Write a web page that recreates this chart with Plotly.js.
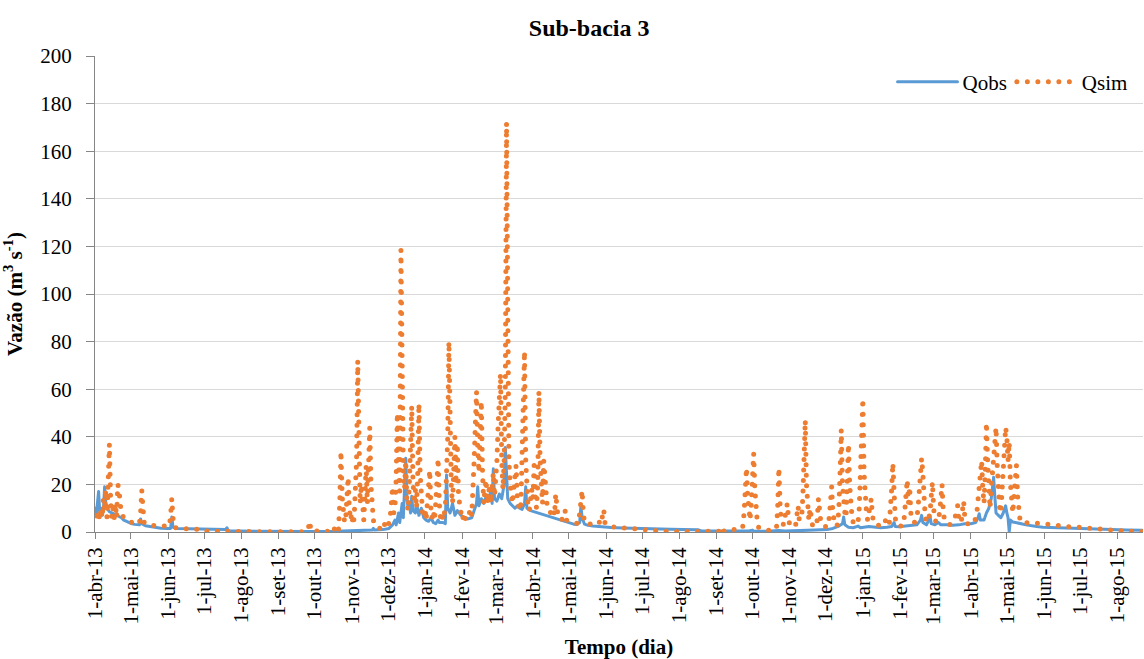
<!DOCTYPE html>
<html>
<head>
<meta charset="utf-8">
<script src="https://cdn.plot.ly/plotly-3.0.1.min.js"></script>
<style>
  html, body { margin: 0; padding: 0; background: #fff; }
  #grafico { width: 1144px; height: 659px; }
  /* round caps turn the zero-length dashes of Qsim into dots */
  .js-line { stroke-linecap: round; stroke-linejoin: round; }
</style>
</head>
<body>
<div id="grafico"></div>
<script>
// Vazões diárias da sub-bacia 3 (m3/s); "dia" conta a partir de 1-abr-2013 (dia 0)
const qobsPontos = [
  [0,10],[1,7],[2,12],[3,17],[4,8],[5,10],[6,7],[7,9],[8,19],[9,12],[10,10],[11,9],[12,8.5],[14,8],[16,7.5],
  [18,7],[20,6.5],[22,6],[24,5],[26,4.5],[28,4],[30,3.6],[33,3.2],[36,3],[37,3],[38,5.5],[39,3.5],[42,2.6],
  [46,2.2],[50,1.8],[55,1.6],[60,1.5],[63,1.5],[64,6.3],[65,2],[68,1.5],[75,1.4],[85,1.3],[95,1.2],[105,1.1],
  [109,1.1],[110,1.8],[111,0.5],[120,0.4],[135,0.3],[150,0.3],[165,0.2],[180,0.2],[200,0.3],[215,0.4],[225,0.6],
  [231,0.8],[232,1.5],[233,0.8],[240,1],[245,1.5],[248,3],[250,5],[251,3],[253,8],[254,4],[256,12],[257,6],
  [258,20],[259,31],[260,14],[261,10],[262,12],[263,8],[264,15],[265,9],[267,8],[268,12],[270,7],[272,10],
  [274,6],[276,5],[278,4.5],[280,6],[282,4],[284,3.5],[286,5],[287,4],[290,4],[292,3.5],[293,24],[294,10],
  [296,8],[298,12],[300,7],[302,9],[305,7],[308,6],[311,5.5],[314,6],[316,9],[318,12],[319,19],[320,11],
  [322,14],[324,12],[326,15],[328,14],[330,17],[331,12],[332,26.6],[333,14],[335,13],[337,16],[339,14],
  [341,20],[342,35.5],[343,22],[344,14],[346,12],[348,11],[350,10],[352,11],[354,10],[356,9.5],[358,12],
  [359,19],[360,10],[363,9],[366,8.5],[369,8],[372,7.5],[375,7],[378,6.5],[381,6],[384,5.5],[387,5],[390,4.5],
  [393,4],[396,3.5],[399,3.3],[402,3.2],[404,4],[405,11],[406,6],[408,3.3],[411,2.8],[415,2.5],[420,2.2],
  [425,2],[430,1.9],[440,1.7],[450,1.5],[460,1.4],[470,1.3],[480,1.2],[490,1.1],[500,1],[503,0.9],[506,0.4],
  [520,0.3],[535,0.3],[545,0.4],[548,0.8],[549,0.4],[560,0.3],[570,0.6],[575,0.4],[590,0.5],[600,0.8],[610,1],
  [615,1.5],[620,2.5],[623,3.5],[624,6.3],[625,3],[628,2],[632,1.8],[636,2.5],[638,1.8],[645,2.3],[650,2],
  [655,1.8],[660,2],[664,2.3],[666,4],[667,2.3],[670,2.2],[675,2.5],[680,2.8],[685,3],[688,5],[689,7],[690,4],
  [693,3],[695,5],[696,6.6],[697,3.5],[700,3],[703,4],[705,3],[710,3],[715,2.8],[720,3],[725,3.5],[730,3.5],
  [734,4],[736,6],[737,7.7],[738,5],[741,5],[743,8],[745,10],[747,14],[748,18],[749,23],[750,15],[751,8],
  [753,7],[755,6],[757,8],[758,10],[759,11],[760,8],[761,6],[762,0.2],[763,5],[765,4.2],[768,4],[772,3.5],
  [776,3],[780,2.6],[785,2.3],[790,2],[800,1.8],[810,1.5],[820,1.3],[830,1.2],[840,1],[850,0.9],[860,0.8],[873,0.7]
];

const qsimPontos = [
  [0,7],[1,9],[2,6],[3,8],[4,5],[5,10],[6,6],[7,14],[8,9],[9,18],[10,6],[11,24],[12,37],[13,14],[14,6],[15,10],
  [16,6],[17,12],[18,6],[19,20],[20,18],[21,12],[22,8],[24,6],[26,5],[28,4.5],[31,4],[34,3.5],[37,3.5],[38,8],
  [39,17.5],[40,10],[41,4],[43,3.2],[46,2.8],[50,2.6],[55,2.5],[60,2.4],[62,2.5],[63,7],[64,14],[65,6],[66,2],
  [70,1.5],[78,1.3],[85,1.2],[90,0.4],[100,0.2],[125,0.2],[150,0.1],[176,0.1],[178,2],[179,4.5],[180,0.5],
  [190,0.2],[197,0.3],[199,2],[200,0.5],[202,2.5],[203,1.2],[204,12],[205,34],[206,15],[207,8],[208,4],[209,6],
  [210,14],[211,23],[212,10],[213,5],[214,8],[215,3],[216,6],[217,15],[218,30],[219,72],[220,28],[221,12],
  [222,20],[223,8],[224,5],[225,15],[226,28],[227,12],[228,25],[229,44],[230,20],[231,10],[232,5],[233,3],
  [235,2],[238,1.5],[240,2],[241,4],[242,1.5],[244,2],[246,6],[247,12],[248,19],[249,8],[250,10],[251,22],
  [252,50],[253,28],[254,15],[255,118.5],[256,40],[257,25],[258,18],[259,30],[260,12],[261,9],[262,20],[263,35],
  [264,53],[265,22],[266,12],[267,18],[268,10],[269,25],[270,54],[271,25],[272,12],[273,8],[274,6],[275,10],
  [276,5],[277,14],[278,20],[279,26],[280,10],[281,6],[282,9],[283,5],[284,12],[285,20],[286,31],[287,12],
  [288,6],[289,8],[290,5],[292,10],[293,22],[294,40],[295,80],[296,35],[297,18],[298,12],[299,25],[300,40],
  [301,20],[302,37],[303,15],[304,10],[305,6],[306,5],[308,8],[309,5],[311,6],[313,10],[314,7],[315,15],
  [316,30],[317,45],[318,59],[319,35],[320,25],[321,40],[322,55],[323,25],[324,12],[325,18],[326,22],[327,12],
  [328,15],[329,20],[330,12],[331,18],[332,25],[333,15],[334,20],[335,30],[336,45],[337,55],[338,66.5],[339,30],
  [340,18],[341,30],[342,60],[343,172],[344,60],[345,30],[346,20],[347,14],[348,12],[349,18],[350,22],[351,28],
  [352,14],[353,10],[354,9],[355,12],[356,30],[357,55],[358,76],[359,30],[360,15],[361,10],[362,9],[363,12],
  [364,18],[365,14],[366,28],[367,14],[368,10],[369,20],[370,59],[371,30],[372,15],[373,12],[374,30],[375,20],
  [376,12],[377,10],[378,9],[380,8],[382,10],[383,7],[384,16],[385,9],[386,6],[388,6],[390,5],[392,9],[393,5],
  [395,4.5],[398,4],[401,3.5],[403,3.5],[404,8],[405,12],[406,17.5],[407,8],[408,4],[410,3.5],[414,3],[418,3],
  [420,3.5],[421,5],[422,4],[423,6],[424,9.5],[425,4],[428,2.5],[433,2],[438,1.8],[445,1.5],[455,1.3],[464,0.5],
  [475,0.3],[490,0.2],[505,0.2],[520,0.3],[522,2],[523,0.4],[530,0.3],[534,1.5],[536,2],[538,1.5],[540,2.5],
  [541,8],[542,18],[543,27],[544,15],[545,8],[546,5],[547,12],[548,22],[549,33],[550,18],[551,8],[552,4],
  [553,2],[555,1.5],[560,0.8],[565,0.7],[568,1.5],[569,10],[570,27],[571,12],[572,5],[574,3],[575,6],[576,9],
  [577,12],[578,6],[579,3],[581,2],[584,3],[585,7],[586,11],[587,5],[589,6],[590,15],[591,30],[592,47],[593,20],
  [594,8],[595,5],[596,10],[597,6],[598,3],[600,2],[602,5],[603,14],[604,8],[605,4],[606,3],[608,2.5],[610,2],
  [612,6],[613,12],[614,19],[615,8],[616,4],[617,2.5],[619,3],[620,10],[621,25],[622,43],[623,20],[624,10],
  [625,8],[626,6],[627,18],[628,37],[629,20],[630,10],[631,6],[632,4],[634,3],[636,4],[637,10],[638,25],
  [639,40],[640,56],[641,25],[642,12],[643,8],[644,5],[645,8],[646,10],[647,14],[648,7],[649,4],[651,3],
  [654,2.5],[657,2.5],[659,5],[660,3],[662,3],[663,8],[664,18],[665,29],[666,12],[667,6],[668,3],[670,2.5],
  [672,2.5],[674,3],[675,8],[676,15],[677,22],[678,12],[679,19],[680,8],[681,5],[683,4],[685,6],[686,10],
  [687,18],[688,24],[689,31],[690,25],[691,12],[692,6],[694,4],[696,8],[697,15],[698,21],[699,10],[700,5],
  [702,4],[704,8],[705,14],[706,20],[707,9],[708,5],[710,4],[712,3],[714,3.5],[716,5],[718,8],[719,11],[720,5],
  [722,4],[723,9],[724,13],[725,6],[727,3.5],[730,3],[733,4],[735,8],[736,15],[737,22],[738,26],[739,30],
  [740,18],[741,12],[742,25],[743,46],[744,30],[745,15],[746,10],[747,18],[748,25],[749,32],[750,38],[751,44],
  [752,28],[753,15],[754,10],[755,8],[756,15],[757,25],[758,35],[759,44],[760,40],[761,30],[762,37.8],[763,20],
  [764,12],[765,8],[766,15],[767,20],[768,28],[769,15],[770,8],[771,5],[772,4],[775,3.8],[781,3.8],[790,3.5],
  [800,2.8],[810,2.3],[820,2],[830,1.5],[840,1.1],[850,0.6],[860,0.3],[873,0.2]
];

// Marcas do eixo do tempo: primeiro dia de cada mês
const tickDatas = [
  '2013-04-01','2013-05-01','2013-06-01','2013-07-01','2013-08-01','2013-09-01','2013-10-01','2013-11-01',
  '2013-12-01','2014-01-01','2014-02-01','2014-03-01','2014-04-01','2014-05-01','2014-06-01','2014-07-01',
  '2014-08-01','2014-09-01','2014-10-01','2014-11-01','2014-12-01','2015-01-01','2015-02-01','2015-03-01',
  '2015-04-01','2015-05-01','2015-06-01','2015-07-01','2015-08-01'
];
const tickRotulos = [
  '1-abr-13','1-mai-13','1-jun-13','1-jul-13','1-ago-13','1-set-13','1-out-13','1-nov-13',
  '1-dez-13','1-jan-14','1-fev-14','1-mar-14','1-abr-14','1-mai-14','1-jun-14','1-jul-14',
  '1-ago-14','1-set-14','1-out-14','1-nov-14','1-dez-14','1-jan-15','1-fev-15','1-mar-15',
  '1-abr-15','1-mai-15','1-jun-15','1-jul-15','1-ago-15'
];

const inicio = Date.UTC(2013, 3, 1);
const paraData = d => new Date(inicio + d * 86400000).toISOString().slice(0, 10);

const fonte = '"Liberation Serif", "Times New Roman", "DejaVu Serif", serif';
const cinzaEixo = '#868686';

const traces = [
  {
    name: 'Qobs', type: 'scatter', mode: 'lines',
    x: qobsPontos.map(p => paraData(p[0])),
    y: qobsPontos.map(p => p[1]),
    line: { color: '#5B9BD5', width: 3 }
  },
  {
    name: 'Qsim', type: 'scatter', mode: 'lines',
    x: qsimPontos.map(p => paraData(p[0])),
    y: qsimPontos.map(p => p[1]),
    line: { color: '#ED7D31', width: 5, dash: '0px,10.5px' }
  }
];

const layout = {
  width: 1144, height: 659,
  paper_bgcolor: '#fff', plot_bgcolor: '#fff',
  margin: { l: 95, r: 1, t: 56, b: 127 },
  font: { family: fonte, color: '#000' },
  title: {
    text: '<b>Sub-bacia 3</b>',
    font: { family: fonte, size: 24, color: '#000' },
    xref: 'container', x: 0.515, xanchor: 'center',
    yref: 'container', y: 0.958, yanchor: 'middle'
  },
  xaxis: {
    type: 'date',
    range: ['2013-04-01', '2015-08-22 12:00'],
    tickmode: 'array', tickvals: tickDatas, ticktext: tickRotulos,
    tickangle: -90,
    tickfont: { family: fonte, size: 21, color: '#000' },
    ticks: 'outside', ticklen: 6, tickcolor: cinzaEixo, tickwidth: 1,
    showline: true, linecolor: cinzaEixo, linewidth: 1,
    showgrid: false, zeroline: false,
    title: { text: '<b>Tempo (dia)</b>', font: { family: fonte, size: 21, color: '#000' }, standoff: 18 }
  },
  yaxis: {
    range: [0, 200], dtick: 20, tick0: 0,
    tickfont: { family: fonte, size: 21, color: '#000' },
    ticks: 'outside', ticklen: 8, tickcolor: cinzaEixo, tickwidth: 1,
    ticklabelstandoff: 10,
    showline: true, linecolor: cinzaEixo, linewidth: 1,
    showgrid: true, gridcolor: '#d9d9d9', gridwidth: 1, zeroline: false,
    title: { text: '<b>Vazão (m<sup>3</sup> s<sup>-1</sup>)</b>', font: { family: fonte, size: 21, color: '#000' }, standoff: 12 }
  },
  showlegend: true,
  legend: {
    orientation: 'h', x: 0.99, xanchor: 'right', y: 0.945, yanchor: 'middle',
    bgcolor: 'rgba(0,0,0,0)', font: { family: fonte, size: 21, color: '#000' },
    itemwidth: 60, traceorder: 'normal'
  }
};

Plotly.newPlot('grafico', traces, layout, { displayModeBar: false, staticPlot: true });
</script>
</body>
</html>
